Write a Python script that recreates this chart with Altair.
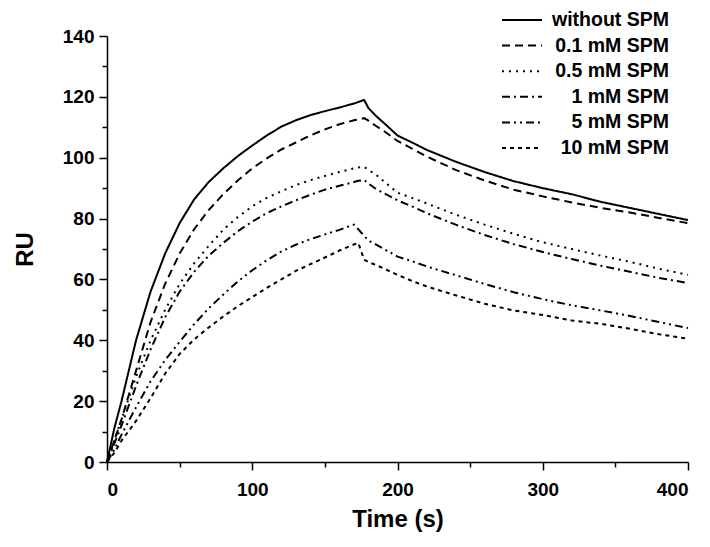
import altair as alt
import pandas as pd

# ---- data ----
time_s = [0, 5, 10, 20, 30, 40, 50, 60, 70, 80, 90, 100, 110, 120, 130, 140, 150, 160, 170, 173,
          177, 180, 185, 190, 200, 210, 220, 240, 260, 280, 300, 320, 340, 360, 380, 400]

series_names = ["without SPM", "0.1 mM SPM", "0.5 mM SPM", "1 mM SPM", "5 mM SPM", "10 mM SPM"]

ru_without = [0, 11, 20, 40, 56, 68.5, 78.5, 86.3, 92, 96.5, 100.5, 104, 107.3, 110.2, 112.3, 114, 115.3, 116.5, 117.8, 118.3,
              119, 116.3, 113.8, 111.7, 107.3, 105, 102.6, 98.7, 95.3, 92.3, 90, 88, 85.5, 83.5, 81.5, 79.5]
ru_01 = [0, 7, 14, 30, 46, 58.5, 68.5, 76.5, 82.8, 88, 92.5, 96.5, 99.8, 102.7, 105, 107.3, 109.3, 111, 112.3, 112.6,
         113, 112.2, 110.5, 109, 105.5, 103, 100.4, 96, 92.5, 89.5, 87.3, 85.3, 83.5, 82, 80.2, 78.5]
ru_05 = [0, 7, 14, 28, 40, 50, 58.5, 65.3, 71, 76.3, 80.5, 84, 86.8, 89, 91, 92.6, 94, 95.3, 96.5, 96.8,
         97, 96, 94.5, 92.5, 88.5, 86.8, 85, 81.3, 78, 75, 72.2, 70, 67.8, 65.8, 63.5, 61.5]
ru_1 = [0, 6, 12, 25, 37, 47.5, 56, 62.5, 67.8, 72, 75.8, 79, 81.8, 84, 86, 87.8, 89.5, 90.8, 92, 92.4,
        92.7, 91.5, 89.8, 88.5, 86, 84, 81.8, 78, 74.6, 71.6, 69, 66.7, 64.5, 62.5, 60.5, 58.8]
ru_5 = [0, 4, 9, 18, 26.5, 33.5, 39.5, 45.3, 50.5, 55, 59.3, 63, 66.3, 69.2, 71.4, 73.2, 74.8, 76.3, 78, 76.5,
        74.3, 72.8, 71.5, 70.2, 67.5, 66, 64.3, 61.4, 58.5, 55.8, 53.5, 51.5, 49.8, 48, 46, 44]
ru_10 = [0, 3, 7, 13.5, 21, 29, 35.5, 40.3, 44.2, 47.8, 51.2, 54.2, 57.2, 60, 62.8, 65, 67.2, 69.5, 71.5, 72,
         66.5, 65.7, 64.8, 63.7, 61.5, 59.5, 57.7, 54.8, 52, 49.8, 48.3, 46.5, 45.4, 43.8, 42, 40.5]

all_values = [ru_without, ru_01, ru_05, ru_1, ru_5, ru_10]

# ---- styling ----
dashes = [[1, 0], [8, 5], [2, 5], [8, 4, 2, 4], [8, 4, 2, 4, 2, 4], [4, 4]]
FONT = "Liberation Sans"

rows = []
for name, vals in zip(series_names, all_values):
    for t, v in zip(time_s, vals):
        rows.append({"series": name, "t": t, "ru": v})
df = pd.DataFrame(rows)

legend_df = pd.DataFrame({"series": series_names, "row": list(range(len(series_names)))})

dash_scale = alt.Scale(domain=series_names, range=dashes)

x_axis = alt.Axis(
    values=list(range(0, 401, 50)),
    labelExpr="datum.value % 100 === 0 ? datum.label : ''",
    tickSize={"condition": {"test": "datum.value % 100 === 0", "value": 8}, "value": 5},
    labelPadding=10,
    title="Time (s)",
    titlePadding=8,
)
y_axis = alt.Axis(
    values=list(range(0, 141, 10)),
    labelExpr="datum.value % 20 === 0 ? datum.label : ''",
    tickSize={"condition": {"test": "datum.value % 20 === 0", "value": 8}, "value": 5},
    labelPadding=5,
    title="RU",
    titlePadding=25,
)

lines = alt.Chart(df).mark_line(strokeWidth=2, color="black").encode(
    x=alt.X("t:Q", scale=alt.Scale(domain=[0, 400], nice=False), axis=x_axis),
    y=alt.Y("ru:Q", scale=alt.Scale(domain=[0, 140], nice=False), axis=y_axis),
    strokeDash=alt.StrokeDash("series:N", scale=dash_scale, legend=None),
    detail="series:N",
)

row_scale = alt.Scale(domain=[0, 5], range=[-16, 112])

leg_lines = alt.Chart(legend_df).mark_rule(strokeWidth=2, color="black").encode(
    x=alt.value(395),
    x2=alt.value(435),
    y=alt.Y("row:Q", scale=row_scale, axis=None),
    strokeDash=alt.StrokeDash("series:N", scale=dash_scale, legend=None),
)

leg_text = alt.Chart(legend_df).mark_text(
    align="right", baseline="middle", font=FONT, fontWeight="bold", fontSize=19.5, color="black"
).encode(
    x=alt.value(562),
    y=alt.Y("row:Q", scale=row_scale, axis=None),
    text="series:N",
)

chart = alt.layer(lines, leg_lines, leg_text).resolve_scale(y="independent").properties(
    width=581,
    height=426,
    autosize=alt.AutoSizeParams(type="none"),
    padding={"left": 99, "top": 28, "right": 6, "bottom": 70},
).configure_view(stroke=None).configure_axis(
    grid=False,
    domainColor="black",
    domainWidth=1.5,
    tickColor="black",
    tickWidth=1.5,
    labelFont=FONT,
    labelFontWeight="bold",
    labelFontSize=19,
    labelColor="black",
    titleFont=FONT,
    titleFontWeight="bold",
    titleFontSize=24,
    titleColor="black",
    labelOverlap=False,
)

chart.save("out.html", embed_options={"renderer": "svg", "actions": False})
